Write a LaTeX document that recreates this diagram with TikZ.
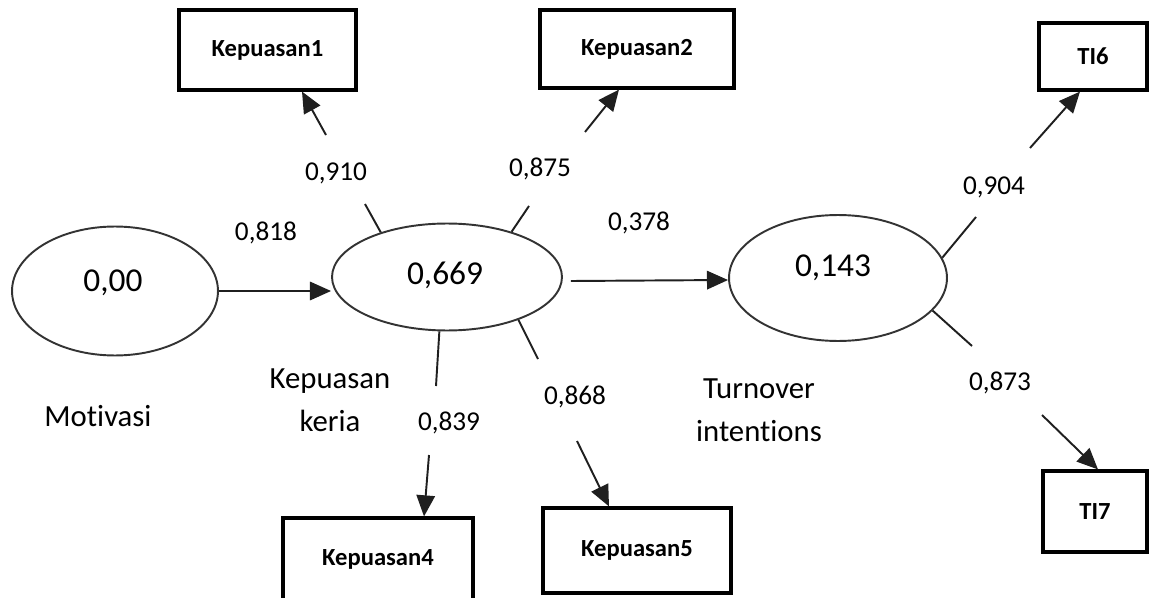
\documentclass[tikz,border=0pt]{standalone}
\usepackage{fontspec}
\setmainfont{Carlito}[Ligatures=NoCommon]
\usetikzlibrary{arrows.meta,shapes.geometric}
\begin{document}
\begin{tikzpicture}[x=0.02cm,y=-0.02cm,
  lat/.style={draw=black!80, line width=1.1pt, ellipse, inner sep=0pt},
  ind/.style={draw=black, line width=1.8pt, rectangle, inner sep=0pt,
    font=\bfseries\fontsize{14}{16}\selectfont},
  coef/.style={font=\fontsize{15.5}{18}\selectfont, inner sep=1pt},
  big/.style={font=\fontsize{19}{22}\selectfont, inner sep=1pt},
  nm/.style={font=\fontsize{17.5}{24.4}\selectfont, align=center, inner sep=1pt},
  ln/.style={draw=black!88, line width=1.1pt},
  arr/.style={ln, -{Triangle[length=12pt,width=10.5pt]}}]
\useasboundingbox (0,0) rectangle (1150,598);
\clip (0,0) rectangle (1150,598);
% latent variables
\node[lat, minimum width=4.12cm, minimum height=2.58cm] (mot) at (115,291) {};
\node[lat, minimum width=4.6cm, minimum height=2.14cm] (kep) at (447,277) {};
\node[lat, minimum width=4.36cm, minimum height=2.52cm] (ti) at (838,278) {};
\node[big] (motv) at (113,283) {0,00};
\node[big] (kepv) at (445,275) {0,669};
\node[big] (tiv) at (833,268) {0,143};
\node[nm] (motn) at (98,416) {Motivasi};
\node[nm] (kepn) at (330,400) {Kepuasan\\keria};
\node[nm] (tin) at (759,410) {Turnover\\intentions};
% indicators
\node[ind, minimum width=3.54cm, minimum height=1.6cm] (k1) at (267.5,50) {Kepuasan1};
\node[ind, minimum width=3.88cm, minimum height=1.56cm] (k2) at (637,49) {Kepuasan2};
\node[ind, minimum width=2.16cm, minimum height=1.34cm] (t6) at (1093,56.5) {TI6};
\node[ind, minimum width=3.8cm, minimum height=1.64cm] (k4) at (378,559) {Kepuasan4};
\node[ind, minimum width=3.76cm, minimum height=1.7cm] (k5) at (637,550.5) {Kepuasan5};
\node[ind, minimum width=2.08cm, minimum height=1.62cm] (t7) at (1095,511.5) {TI7};
% coefficients
\node[coef] (c1) at (336,173) {0,910};
\node[coef] (c2) at (540,169) {0,875};
\node[coef] (c3) at (266,233) {0,818};
\node[coef] (c4) at (639,223) {0,378};
\node[coef] (c5) at (994,187) {0,904};
\node[coef] (c6) at (1000,383) {0,873};
\node[coef] (c7) at (449,423) {0,839};
\node[coef] (c8) at (575,397) {0,868};
% connector break points
\coordinate (k1a) at (365,204);
\coordinate (k1b) at (326,135);
\coordinate (k2a) at (529,206);
\coordinate (k2b) at (585,132);
\coordinate (k4a) at (436,386);
\coordinate (k4b) at (429,455);
\coordinate (k5a) at (538,359);
\coordinate (k5b) at (577,441);
\coordinate (t6a) at (976,217);
\coordinate (t6b) at (1030,148);
\coordinate (t7a) at (972,346);
\coordinate (t7b) at (1042,415);
% structural paths
\draw[arr] (mot.east) -- (kep.west |- mot.east);
\draw[arr] ([shift={(8,4)}]kep.east) -- ([shift={(0,2)}]ti.west);
% outer loadings
\draw[ln] (kep.146) -- (k1a);
\draw[arr] (k1b) -- ([shift={(34.5,0)}]k1.south);
\draw[ln] (kep.35) -- (k2a);
\draw[arr] (k2b) -- ([shift={(-18,0)}]k2.south);
\draw[ln] (kep.262) -- (k4a);
\draw[arr] (k4b) -- ([shift={(46,0)}]k4.north);
\draw[ln] (kep.-31) -- (k5a);
\draw[arr] (k5b) -- ([shift={(-28,0)}]k5.north);
\draw[ln] (ti.11) -- (t6a);
\draw[arr] (t6b) -- ([shift={(-13,0)}]t6.south);
\draw[ln] (ti.-19) -- (t7a);
\draw[arr] (t7b) -- ([shift={(3,0)}]t7.north);
\end{tikzpicture}
\end{document}
